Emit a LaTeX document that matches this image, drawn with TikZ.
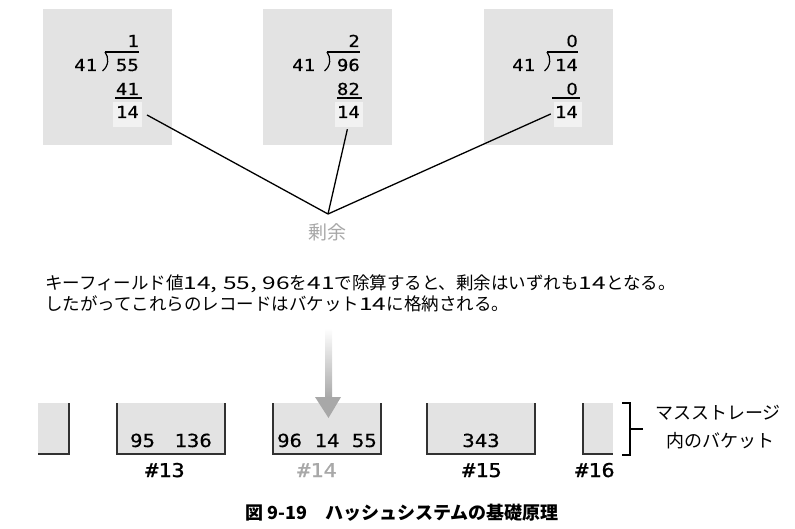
\documentclass[tikz,border=0pt]{standalone}
\usepackage{fontspec}
\newfontfamily\jp{Noto Sans CJK JP}
\newfontfamily\jpwide[FakeStretch=1.4]{Noto Sans CJK JP}
\newfontfamily\mono[FakeStretch=1.15,FakeBold=0.4]{DejaVu Sans Mono}
\newfontfamily\zerof[FakeStretch=1.09,FakeBold=0.4]{DejaVu Sans}
\newfontfamily\monob[FakeStretch=1.15,FakeBold=1.2]{DejaVu Sans Mono}
\usetikzlibrary{arrows.meta}
\definecolor{boxgray}{RGB}{227,227,227}
\definecolor{hilite}{RGB}{242,242,242}
\definecolor{txtgray}{RGB}{168,168,168}
\definecolor{edgegray}{RGB}{50,50,50}
\tikzset{
  num/.style={font=\mono\fontsize{16.5}{16.5}\selectfont, inner sep=0pt, anchor=base east},
  divisor/.style={num, anchor=base west},
  rule/.style={line width=1.2pt, black},
  conn/.style={line width=1.3pt, black},
  bedge/.style={line width=1.7pt, draw=edgegray},
  bnum/.style={font=\mono\fontsize{18}{18}\selectfont, inner sep=0pt, anchor=base},
  blabel/.style={font=\monob\fontsize{19}{19}\selectfont, inner sep=0pt, anchor=base},
  jtext/.style={font=\jp\fontsize{17.5}{17.5}\selectfont, inner sep=0pt, anchor=base west},
}
\begin{document}
\begin{tikzpicture}[x=1pt,y=-1pt]
\useasboundingbox (0,0) rectangle (795,529);
% panels
\fill[boxgray] (43,9) rectangle (172,145);
\fill[boxgray] (263,9) rectangle (392,145);
\fill[boxgray] (484,9) rectangle (613,145);
\fill[hilite] (113,102) rectangle (142,127);
\fill[hilite] (335,102) rectangle (363,127);
\fill[hilite] (554,102) rectangle (582,127);
% box 1
\node[num] (q1) at (139,47) {1};
\node[divisor] (d1) at (74,71) {41};
\node[num] (n1) at (139,71) {55};
\node[num] (s1) at (139,95) {41};
\node[num] (r1) at (139,118) {14};
\draw[rule] (105,52) -- (139,52);
\draw[rule] (105,52) .. controls (109,57) and (109,66) .. (102.5,71);
\draw[rule] (115,98) -- (142,98);
% box 2
\node[num] (q2) at (360,47) {2};
\node[divisor] (d2) at (292,71) {41};
\node[num] (n2) at (360,71) {96};
\node[num] (s2) at (360,95) {82};
\node[num] (r2) at (360,118) {14};
\draw[rule] (327,52) -- (360,52);
\draw[rule] (327,52) .. controls (331,57) and (331,66) .. (324.5,71);
\draw[rule] (337,98) -- (362,98);
% box 3
\node[num] (q3) at (578,47) {\zerof 0};
\node[divisor] (d3) at (512,71) {41};
\node[num] (n3) at (578,71) {14};
\node[num] (s3) at (578,95) {\zerof 0};
\node[num] (r3) at (578,118) {14};
\draw[rule] (547,52) -- (578,52);
\draw[rule] (547,52) .. controls (551,57) and (551,66) .. (544.5,71);
\draw[rule] (552,98) -- (580,98);
% connectors
\coordinate (apex) at (328,214);
\draw[conn] ([xshift=8pt,yshift=-3pt]r1.east) -- (apex);
\draw[conn] ([xshift=-1pt,yshift=-11pt]r2.south) -- (apex);
\draw[conn] ([xshift=-4pt,yshift=-2pt]r3.west) -- (apex);
\node[font=\jp\fontsize{19}{19}\selectfont, text=txtgray, inner sep=0pt] (rem) at (327,232) {剰余};
% explanation
\node[jtext] (t1) at (45,290) {キーフィールド値{\jpwide 14, 55, 96}を{\jpwide 41}で除算すると、剰余はいずれも{\jpwide 14}となる。};
\node[jtext] (t2) at (45,311) {したがってこれらのレコードはバケット{\jpwide 14}に格納される。};
% buckets fill
\fill[boxgray] (38,403) rectangle (69,454);
\fill[boxgray] (117,403) rectangle (225,454);
\fill[boxgray] (273,403) rectangle (381,454);
\fill[boxgray] (427,403) rectangle (535,454);
\fill[boxgray] (583,403) rectangle (613,454);
% arrow
\shade[top color=white, bottom color=txtgray] (325,328) rectangle (332,398);
\fill[txtgray] (315,397) -- (341,397) -- (328.5,418) -- cycle;
% bucket edges
\draw[bedge] (69,403) -- (69,454) -- (38,454);
\draw[bedge] (117,403) -- (117,454) -- (225,454) -- (225,403);
\draw[bedge] (273,403) -- (273,454) -- (381,454) -- (381,403);
\draw[bedge] (427,403) -- (427,454) -- (535,454) -- (535,403);
\draw[bedge] (583,403) -- (583,454) -- (613,454);
% bucket contents
\node[bnum] (v13) at (171,447) {95 \hspace{7pt}136};
\node[bnum] (v14) at (327,447) {96 14 55};
\node[bnum] (v15) at (481,447) {343};
\node[blabel] (l13) at (165,477) {\#13};
\node[blabel, text=txtgray] (l14) at (317,477) {\#14};
\node[blabel] (l15) at (482,477) {\#15};
\node[blabel] (l16) at (595,477) {\#16};
% bracket
\draw[conn] (622,403) -- (630,403) -- (630,455) -- (622,455);
\draw[conn] (630,429) -- (643,429);
\node[font=\jp\fontsize{18}{18}\selectfont, inner sep=0pt] (ms1) at (718,413) {マスストレージ};
\node[font=\jp\fontsize{18}{18}\selectfont, inner sep=0pt] (ms2) at (720,441) {内のバケット};
% caption
\node[font=\jp\bfseries\fontsize{18}{18}\selectfont, inner sep=0pt, anchor=west] (cap) at (245,513) {図 9-19　ハッシュシステムの基礎原理};
\end{tikzpicture}
\end{document}
